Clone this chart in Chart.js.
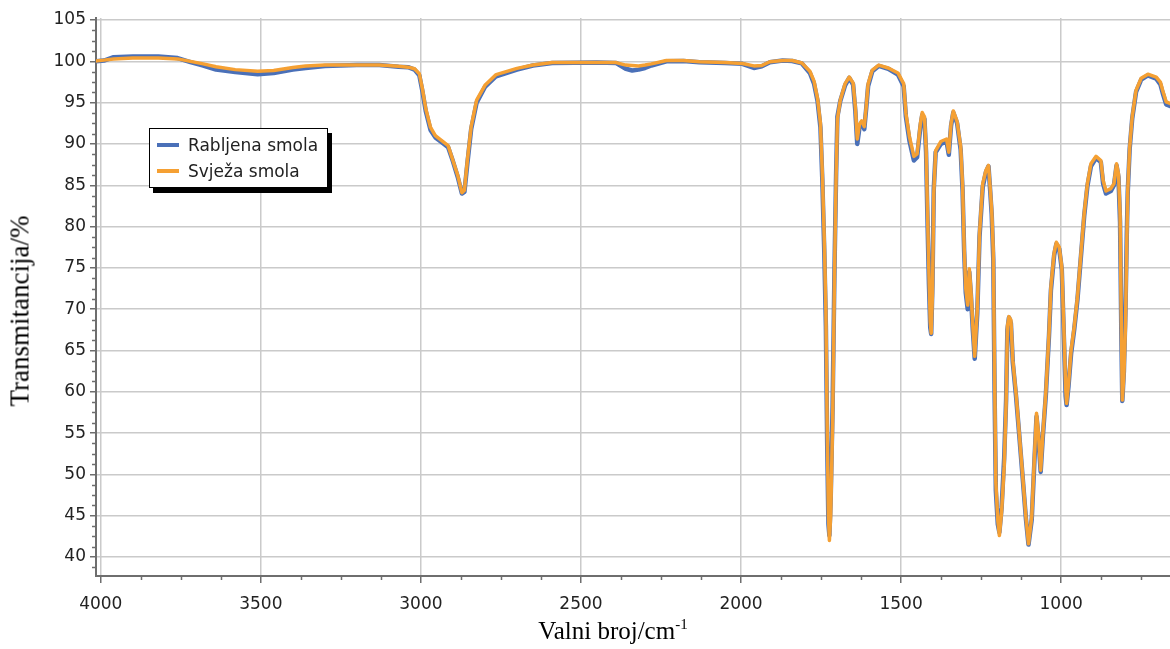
<!DOCTYPE html>
<html>
<head>
<meta charset="utf-8">
<script src="https://cdn.jsdelivr.net/npm/chart.js@4"></script>
<style>
  body { margin: 0; background: #fff; }
  #wrap { position: relative; width: 1170px; height: 649px; }
  #yTitle {
    position: absolute; left: 20px; top: 311px;
    transform: translate(-50%, -50%) rotate(-90deg);
    font: 27px "Liberation Serif", serif; color: #000; white-space: nowrap;
  }
  #xTitle {
    position: absolute; left: 613px; top: 617px;
    transform: translateX(-50%);
    font: 25px "Liberation Serif", serif; color: #000; white-space: nowrap;
  }
  #xTitle sup { font-size: 15px; vertical-align: 10px; line-height: 0; }
  #legend {
    position: absolute; left: 149px; top: 128px; width: 177px; height: 58px;
    border: 1.5px solid #000; background: #fff; box-shadow: 4px 5px 0 #000;
    font: 17px "DejaVu Sans", sans-serif; color: #222;
  }
  #legend .item { position: absolute; left: 7px; height: 20px; display: flex; align-items: center; }
  #legend .swatch { width: 22px; height: 4px; margin-right: 9px; }
</style>
</head>
<body>
<div id="wrap">
  <canvas id="spectrum" width="1170" height="649"></canvas>
  <div id="yTitle">Transmitancija/%</div>
  <div id="xTitle">Valni broj/cm<sup>-1</sup></div>
  <div id="legend"></div>
</div>
<script>
// valni broj (cm-1)
const WAVENUMBER = [
  4015, 3990, 3960, 3900, 3820, 3760, 3720, 3680, 3640, 3580, 3510, 3460, 3400, 3360, 3300, 3200, 3130,
  3070, 3040, 3020, 3005, 2995, 2985, 2970, 2955, 2935, 2915, 2900, 2885, 2872, 2864, 2855, 2843, 2826,
  2800, 2765, 2700, 2650, 2590, 2450, 2390, 2360, 2340, 2320, 2300, 2280, 2233, 2180, 2130, 2050, 1996,
  1960, 1935, 1910, 1870, 1840, 1810, 1785, 1772, 1761, 1752, 1746, 1740, 1735, 1731, 1727, 1724, 1720,
  1714, 1708, 1703, 1699, 1690, 1675, 1662, 1650, 1643, 1637, 1630, 1623, 1615, 1609, 1603, 1590, 1570,
  1540, 1510, 1492, 1485, 1474, 1460, 1450, 1440, 1434, 1427, 1422, 1418, 1413, 1409, 1406, 1402, 1398,
  1392, 1376, 1358, 1351, 1344, 1337, 1325, 1314, 1308, 1303, 1298, 1292, 1287, 1282, 1276, 1270, 1262,
  1255, 1245, 1235, 1227, 1222, 1217, 1212, 1208, 1204, 1198, 1193, 1186, 1178, 1172, 1168, 1163, 1157,
  1151, 1141, 1131, 1120, 1110, 1102, 1092, 1084, 1077, 1071, 1064, 1057, 1048, 1038, 1032, 1022, 1015,
  1006, 998, 991, 986, 983, 977, 969, 959, 949, 938, 928, 918, 907, 891, 876, 869, 860, 845, 835, 827,
  821, 816, 812, 809, 804, 799, 795, 792, 786, 778, 766, 750, 729, 703, 690, 683, 672, 660
];

// Rabljena smola (plava)
const RABLJENA = [
  100.0, 100.1, 100.5, 100.6, 100.6, 100.4, 99.9, 99.5, 99.0, 98.7, 98.45, 98.6, 99.0, 99.2, 99.45, 99.55, 99.55,
  99.35, 99.3, 99.0, 98.3, 96.3, 94.0, 91.7, 90.8, 90.2, 89.6, 87.9, 86.0, 84.0, 84.2, 87.6, 91.8, 95.0,
  96.9, 98.2, 99.0, 99.5, 99.8, 99.85, 99.8, 99.1, 98.9, 99.0, 99.2, 99.5, 100.0, 100.05, 99.9, 99.8, 99.7,
  99.2, 99.4, 99.9, 100.1, 100.05, 99.75, 98.6, 97.3, 95.2, 92.0, 85.5, 77.0, 68.0, 54.0, 44.0, 42.6, 47.0,
  58.2, 75.0, 86.4, 93.3, 95.2, 97.1, 98.0, 97.2, 94.0, 90.0, 92.0, 92.6, 91.8, 94.3, 97.0, 98.8, 99.45,
  99.1, 98.4, 97.0, 93.3, 90.4, 88.0, 88.4, 92.0, 93.5, 93.0, 89.0, 81.5, 73.0, 67.8, 67.0, 73.0, 84.5,
  89.0, 90.0, 90.3, 88.7, 92.2, 93.8, 92.5, 89.3, 84.4, 77.0, 72.0, 70.0, 74.5, 71.8, 67.5, 64.0, 69.5,
  78.8, 84.8, 86.6, 87.3, 84.5, 81.5, 76.0, 60.0, 48.0, 44.0, 43.0, 46.0, 52.0, 59.0, 67.5, 69.0, 68.3,
  63.5, 59.5, 54.8, 49.5, 44.6, 41.5, 44.5, 51.2, 57.0, 54.5, 50.3, 54.7, 59.5, 66.8, 72.3, 76.5, 77.9,
  77.3, 74.8, 66.0, 59.5, 58.4, 60.7, 64.6, 67.6, 71.2, 76.5, 81.3, 84.9, 87.3, 88.3, 87.8, 85.2, 84.0, 84.3, 85.0, 87.4,
  86.0, 80.5, 67.0, 58.9, 62.5, 70.0, 79.0, 84.2, 89.4, 93.1, 96.3, 97.8, 98.3, 97.9, 97.2, 96.2, 94.8, 94.6
];

// Svježa smola (narančasta)
const SVJEZA = [
  100.05, 100.15, 100.3, 100.4, 100.4, 100.3, 100.0, 99.7, 99.35, 99.0, 98.8, 98.9, 99.25, 99.45, 99.55, 99.55, 99.55,
  99.4, 99.3, 99.1, 98.5, 96.6, 94.3, 92.0, 91.0, 90.4, 89.8, 88.0, 86.2, 84.1, 84.4, 88.0, 92.1, 95.3,
  97.1, 98.4, 99.15, 99.55, 99.85, 99.85, 99.85, 99.55, 99.5, 99.45, 99.55, 99.7, 100.1, 100.1, 99.95, 99.85, 99.75,
  99.45, 99.5, 99.95, 100.1, 100.1, 99.8, 98.8, 97.6, 95.5, 92.5, 86.4, 78.4, 70.0, 56.0, 45.0, 42.0, 45.0,
  56.0, 74.3, 86.0, 93.0, 95.3, 97.3, 98.1, 97.4, 94.5, 90.6, 92.4, 92.8, 92.1, 94.5, 97.3, 98.95, 99.55,
  99.2, 98.6, 97.3, 93.7, 90.9, 88.5, 88.8, 92.4, 93.8, 93.3, 89.6, 82.5, 74.3, 68.5, 67.1, 72.0, 84.0,
  89.2, 90.3, 90.6, 89.0, 92.4, 94.0, 92.7, 89.7, 85.0, 77.5, 72.5, 70.5, 74.9, 72.3, 68.0, 64.3, 70.0,
  79.2, 85.2, 86.8, 87.4, 84.8, 82.0, 77.0, 62.0, 49.0, 44.5, 42.6, 45.5, 51.0, 58.5, 67.9, 69.1, 68.7,
  63.8, 59.8, 55.0, 49.7, 44.8, 41.6, 44.8, 51.7, 57.4, 55.0, 50.5, 55.0, 59.8, 67.1, 72.7, 76.8, 78.1,
  77.5, 75.1, 67.0, 60.5, 58.6, 61.0, 65.0, 67.9, 71.5, 76.8, 81.6, 85.2, 87.6, 88.5, 88.0, 85.6, 84.3, 84.6, 85.2, 87.6,
  86.4, 81.6, 68.0, 59.0, 62.0, 68.0, 78.0, 84.4, 89.6, 93.3, 96.5, 97.95, 98.45, 98.1, 97.5, 96.5, 95.1, 94.9
];

const SERIES_NAMES = ['Rabljena smola', 'Svježa smola'];
const SERIES_COLORS = ['#4a70b8', '#f5a033'];
const X_TICKS = [4000, 3500, 3000, 2500, 2000, 1500, 1000];
const Y_TICKS = [40, 45, 50, 55, 60, 65, 70, 75, 80, 85, 90, 95, 100, 105];

function toPoints(values) {
  return WAVENUMBER.map((x, i) => ({ x: x, y: values[i] }));
}

// sitne oznake između glavnih (3 između svake dvije)
const minorTicks = {
  id: 'minorTicks',
  afterDraw(chart) {
    const ctx = chart.ctx;
    const xs = chart.scales.x, ys = chart.scales.y;
    ctx.save();
    ctx.strokeStyle = '#6e6e6e';
    ctx.lineWidth = 1.5;
    ctx.beginPath();
    for (let i = 0; i < X_TICKS.length; i++) {
      for (let k = 1; k < 4; k++) {
        const v = X_TICKS[i] - k * 125;
        if (v < xs.min) continue;
        const px = Math.round(xs.getPixelForValue(v)) + 0.5;
        ctx.moveTo(px, xs.top); ctx.lineTo(px, xs.top + 4);
      }
    }
    for (let i = 0; i < Y_TICKS.length; i++) {
      for (let k = 1; k < 4; k++) {
        const v = Y_TICKS[i] - k * 1.25;
        if (v < ys.min) continue;
        const py = Math.round(ys.getPixelForValue(v)) + 0.5;
        ctx.moveTo(ys.right - 4, py); ctx.lineTo(ys.right, py);
      }
    }
    ctx.stroke();
    ctx.restore();
  }
};

const tickFont = { family: 'DejaVu Sans', size: 17 };

const chart = new Chart(document.getElementById('spectrum'), {
  type: 'line',
  data: {
    datasets: [
      { label: SERIES_NAMES[0], data: toPoints(RABLJENA), borderColor: SERIES_COLORS[0], borderWidth: 4.5, order: 2 },
      { label: SERIES_NAMES[1], data: toPoints(SVJEZA), borderColor: SERIES_COLORS[1], borderWidth: 3.5, order: 1 }
    ]
  },
  options: {
    responsive: false,
    animation: false,
    events: [],
    elements: {
      point: { radius: 0 },
      line: { tension: 0, fill: false, borderJoinStyle: 'round', borderCapStyle: 'round' }
    },
    layout: { padding: { top: 18, right: 0, left: 0, bottom: 0 } },
    plugins: { legend: { display: false }, tooltip: { enabled: false } },
    scales: {
      x: {
        type: 'linear', reverse: true, min: 660, max: 4015,
        afterBuildTicks: s => { s.ticks = X_TICKS.map(v => ({ value: v })); },
        afterFit: s => { s.height = 73; },
        ticks: { font: tickFont, color: '#222', padding: 11, maxRotation: 0, autoSkip: false, callback: v => String(v) },
        grid: { color: '#cacaca', lineWidth: 1.5, tickColor: '#6e6e6e', tickLength: 7 },
        border: { color: '#6e6e6e', width: 2 }
      },
      y: {
        type: 'linear', min: 37.7, max: 105.25,
        afterBuildTicks: s => { s.ticks = Y_TICKS.map(v => ({ value: v })); },
        afterFit: s => { s.width = 96; },
        ticks: { font: tickFont, color: '#222', padding: 4, callback: v => String(v) },
        grid: { color: '#cacaca', lineWidth: 1.5, tickColor: '#6e6e6e', tickLength: 6 },
        border: { color: '#6e6e6e', width: 2 }
      }
    }
  },
  plugins: [minorTicks]
});

// legenda
const legend = document.getElementById('legend');
SERIES_NAMES.forEach((name, i) => {
  const item = document.createElement('div');
  item.className = 'item';
  item.style.top = (6 + i * 26) + 'px';
  item.innerHTML = '<span class="swatch" style="background:' + SERIES_COLORS[i] + '"></span>' + name;
  legend.appendChild(item);
});
</script>
</body>
</html>
